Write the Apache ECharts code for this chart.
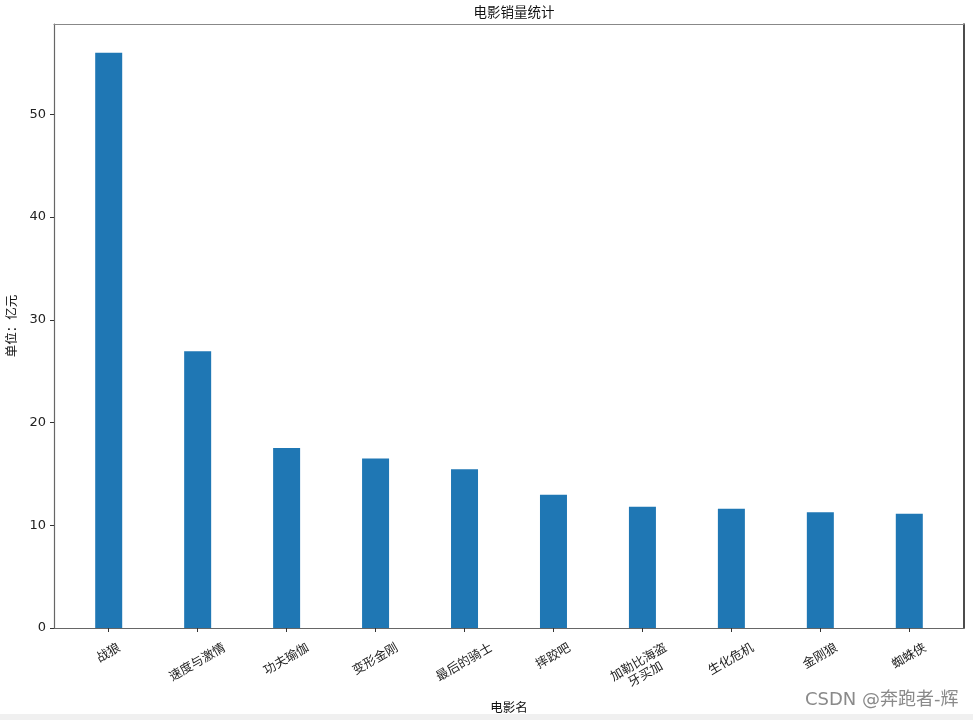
<!DOCTYPE html>
<html>
<head>
<meta charset="utf-8">
<script src="https://cdn.jsdelivr.net/npm/echarts@6/dist/echarts.min.js"></script>
<style>
html,body{margin:0;padding:0;background:#fff;}
#chart{width:973px;height:720px;}
</style>
</head>
<body>
<div id="chart"></div>
<script>
// ---- data ----
const titleText = '电影销量统计';
const xAxisName = '电影名';
const yAxisName = '单位：亿元';
const categories = ['战狼', '速度与激情', '功夫瑜伽', '变形金刚', '最后的骑士', '摔跤吧', '加勒比海盗\n牙买加', '生化危机', '金刚狼', '蜘蛛侠'];
const sales = [56.01, 26.94, 17.53, 16.49, 15.45, 12.96, 11.8, 11.61, 11.28, 11.12];
const yTicks = [0, 10, 20, 30, 40, 50];
const watermark = 'CSDN @奔跑者-辉';

// ---- layout helpers ----
const FONT = "'DejaVu Sans', 'Noto Sans CJK SC', sans-serif";
const labelFont = 12.5;
const charW = 12.5;
const lineH = 14;
const labelPad = 13;
const labelMargin = 10;
const xIdx = categories.map((_, i) => i);

const rich = {};
const labelMap = {};
categories.forEach((c, i) => {
  const lines = c.split('\n');
  const n = Math.max(...lines.map(l => l.length));
  const w = n * charW;
  const h = lines.length * lineH;
  const H = 0.5 * w + 0.866 * h;
  const d = labelPad + H / 2 - labelMargin;
  const R = d;
  const T = 1.732 * d;
  rich['a' + i] = {fontSize: labelFont, fontFamily: FONT, color: '#222', lineHeight: lineH, padding: [T, R, 0, 0]};
  labelMap[i] = lines.map(l => '{a' + i + '|' + l + '}').join('\n');
});

const chart = echarts.init(document.getElementById('chart'), null, {renderer: 'canvas'});
const xMin = -0.615, xMax = 9.615, yMax = 58.8;

chart.setOption({
  animation: false,
  backgroundColor: '#fff',
  title: {
    text: titleText, left: 509, top: 2, textAlign: 'center',
    textStyle: {fontSize: 13.5, fontWeight: 'normal', color: '#111', fontFamily: FONT}
  },
  grid: {left: 54, right: 9, top: 24, bottom: 92, containLabel: false, outerBoundsMode: 'none'},
  xAxis: [{
    type: 'value', min: xMin, max: xMax, position: 'bottom',
    name: xAxisName, nameLocation: 'middle', nameGap: 72,
    nameTextStyle: {fontSize: 12.5, color: '#111', fontFamily: FONT},
    axisLine: {show: true, onZero: false, lineStyle: {color: '#666', width: 1.2}},
    axisTick: {show: true, customValues: xIdx, length: 4, lineStyle: {color: '#333'}},
    axisLabel: {
      customValues: xIdx, rotate: 30, align: 'center', verticalAlign: 'middle',
      margin: labelMargin, formatter: v => labelMap[Math.round(v)], rich: rich
    },
    splitLine: {show: false}
  }, {
    type: 'value', min: xMin, max: xMax, position: 'top',
    axisLine: {show: true, onZero: false, lineStyle: {color: '#888', width: 1.2}},
    axisTick: {show: false}, axisLabel: {show: false}, splitLine: {show: false}
  }],
  yAxis: [{
    type: 'value', min: 0, max: yMax, position: 'left',
    name: yAxisName, nameLocation: 'middle', nameGap: 34, nameRotate: 90,
    nameTextStyle: {fontSize: 12.5, color: '#111', fontFamily: FONT},
    axisLine: {show: true, onZero: false, lineStyle: {color: '#666', width: 1.2}},
    axisTick: {show: true, customValues: yTicks, length: 4, lineStyle: {color: '#333'}},
    axisLabel: {customValues: yTicks, margin: 8, fontSize: 13, color: '#222', fontFamily: FONT},
    splitLine: {show: false}
  }, {
    type: 'value', min: 0, max: yMax, position: 'right',
    axisLine: {show: true, onZero: false, lineStyle: {color: '#111', width: 1.5}},
    axisTick: {show: false}, axisLabel: {show: false}, splitLine: {show: false}
  }],
  series: [{
    type: 'bar', xAxisIndex: 0, yAxisIndex: 0,
    data: sales.map((v, i) => [i, v]),
    barWidth: 27,
    itemStyle: {color: '#1f77b4'}
  }],
  graphic: [{
    type: 'rect', left: 0, top: 714, silent: true,
    shape: {width: 973, height: 6}, style: {fill: '#f0f0f0'}
  }, {
    type: 'text', left: 805, top: 691, silent: true,
    style: {text: watermark, fontSize: 18, fill: '#8a8a8a', fontFamily: FONT}
  }]
});
</script>
</body>
</html>
